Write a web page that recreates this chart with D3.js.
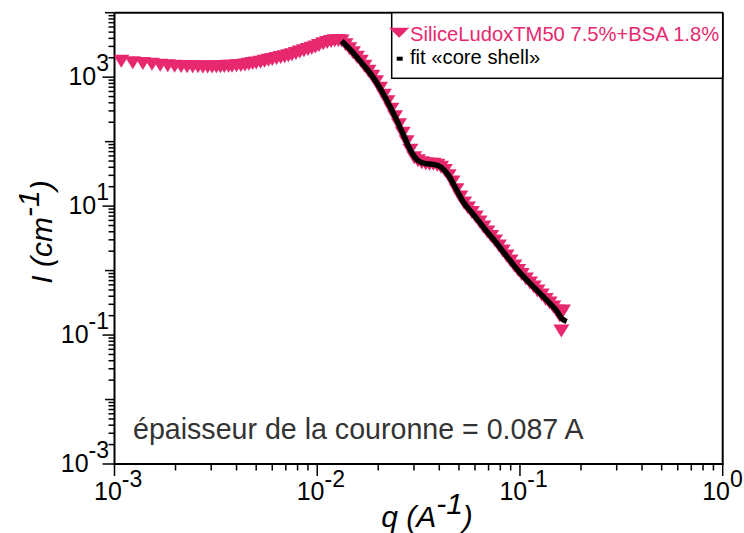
<!DOCTYPE html>
<html><head><meta charset="utf-8">
<script src="https://cdn.jsdelivr.net/npm/d3@7"></script>
<style>body{margin:0;background:#fff}svg{display:block}</style>
</head><body><svg id="c" width="744" height="533"></svg>
<script>
// ---- data ----
const qData = [0.00108,0.00123,0.00138,0.00153,0.00168,0.00183,0.00198,0.00213,0.00228,0.00243,
0.00258,0.00273,0.00288,0.00303,0.00318,0.00333,0.00348,0.00365,0.00380,0.00400,
0.00420,0.00440,0.00460,0.00480,0.00500,0.00525,0.00550,0.00575,0.00600,0.00630,
0.00660,0.00690,0.00720,0.00750,0.00785,0.00820,0.00860,0.00900,0.00940,0.00980,
0.0102,0.0107,0.0112,0.0117,0.0122,0.0127,0.0132,0.0138,0.0144,0.0150,
0.0157,0.0164,0.0171,0.0179,0.0187,0.0195,0.0204,0.0213,0.0222,0.0232,
0.0242,0.0253,0.0264,0.0276,0.0288,0.0301,0.0314,0.0328,0.0343,0.0358,
0.0374,0.0391,0.0408,0.0426,0.0445,0.0465,0.0486,0.0508,0.0530,0.0554,
0.0579,0.0605,0.0632,0.0660,0.0690,0.0721,0.0753,0.0787,0.0822,0.0859,
0.0898,0.0938,0.0980,0.102,0.107,0.112,0.117,0.122,0.128,0.134,
0.140,0.146,0.152,0.157,0.160,0.163];
const iData = [1764,1678,1631,1580,1535,1508,1481,1466,1455,1455,
1450,1444,1444,1444,1450,1455,1466,1476,1481,1497,
1513,1546,1591,1631,1666,1708,1758,1822,1888,1950,
2013,2079,2154,2233,2331,2459,2576,2689,2816,2950,
3101,3307,3463,3589,3680,3719,3654,3191,2766,2398,
2042,1758,1481,1239,1036,851.6,675.3,525.9,417.1,319.0,
244.1,183.4,135.5,100.0,73.83,56.48,50.75,47.24,45.60,44.79,
44.47,43.22,40.24,35.52,29.71,23.56,18.02,13.79,11.13,9.311,
7.929,6.752,5.648,4.725,3.953,3.366,2.867,2.398,2.006,1.678,
1.404,1.174,1.000,0.8670,0.7383,0.6401,0.5549,0.4811,0.4171,0.3552,
0.3134,0.2717,0.2356,0.1970,0.1153,0.2356];

const qFit = [0.0132,0.0144,0.0157,0.0171,0.0187,0.0204,0.0222,0.0242,0.0264,0.0288,
0.0314,0.0343,0.0374,0.0408,0.0445,0.0486,0.0530,0.0579,0.0632,0.0690,
0.0753,0.0822,0.0898,0.0980,0.107,0.117,0.128,0.140,0.152,0.160,0.170];
const iFit = [3654,2766,2042,1481,1036,675.3,417.1,244.1,135.5,73.83,
50.75,45.60,44.47,40.24,29.71,18.02,11.13,7.929,5.648,3.953,
2.867,2.006,1.404,1.000,0.7383,0.5549,0.4171,0.3134,0.2356,0.1835,0.162];

const xTickExps = [-3,-2,-1,0];
const yLabelExps = [-3,-1,1,3];
const seriesLabel = "SiliceLudoxTM50 7.5%+BSA 1.8%";
const fitLabel = "fit \u00abcore shell\u00bb";
const note = "épaisseur de la couronne = 0.087 A";

// ---- layout ----
const L = 114.5, R = 722.7, T = 12.7, B = 464;
const x = d3.scaleLog().domain([1e-3, 1]).range([L, R]);
const y = d3.scaleLog().domain([1e-3, 1e4]).range([B, T]);
const svg = d3.select("#c");
const font = "'Liberation Sans', Arial, Helvetica, sans-serif";
const pink = "#E8286E";

svg.append("clipPath").attr("id","clip").append("rect")
  .attr("x", L).attr("y", T - 6).attr("width", R - L).attr("height", B - T + 6);

// ---- ticks ----
const isMajor = t => Math.abs(Math.log10(t) - Math.round(Math.log10(t))) < 1e-6;
const gAx = svg.append("g").attr("stroke", "#000").attr("stroke-width", 1.5);
y.ticks().forEach(t => {
  const e = Math.round(Math.log10(t));
  const len = isMajor(t) ? (yLabelExps.includes(e) ? 12 : 9.5) : 6;
  gAx.append("line").attr("x1", L - len).attr("x2", L).attr("y1", y(t)).attr("y2", y(t));
});
x.ticks().forEach(t => {
  const len = isMajor(t) ? 12 : 6.5;
  gAx.append("line").attr("x1", x(t)).attr("x2", x(t)).attr("y1", B).attr("y2", B + len);
});
// frame
const gF = svg.append("g").attr("stroke", "#000").attr("stroke-width", 2).attr("fill", "none");
gF.append("line").attr("x1", L).attr("x2", L).attr("y1", T).attr("y2", B);
gF.append("line").attr("x1", L - 1).attr("x2", R + 1).attr("y1", B).attr("y2", B);
gF.append("line").attr("x1", L).attr("x2", R).attr("y1", T).attr("y2", T);
gF.append("line").attr("x1", R).attr("x2", R).attr("y1", T).attr("y2", B);

// ---- tick labels ----
yLabelExps.forEach(e => {
  const t = svg.append("text").attr("x", 109).attr("y", y(Math.pow(10, e)) + 8)
    .attr("text-anchor", "end").attr("font-family", font).attr("font-size", 25).attr("fill", "#000");
  t.append("tspan").text("10");
  t.append("tspan").attr("dy", -14).attr("font-size", 23).text(String(e));
});
xTickExps.forEach(e => {
  const t = svg.append("text").attr("x", x(Math.pow(10, e)) - 20.5).attr("y", 500)
    .attr("font-family", font).attr("font-size", 25).attr("fill", "#000");
  t.append("tspan").text("10");
  t.append("tspan").attr("dy", -13).attr("font-size", 23).text(String(e));
});

// ---- axis titles ----
const yt = svg.append("text").attr("transform", "translate(52,232) rotate(-90)")
  .attr("text-anchor", "middle").attr("font-family", font).attr("font-size", 30)
  .attr("font-style", "italic").attr("fill", "#000");
yt.append("tspan").text("I (cm");
yt.append("tspan").attr("dy", -13).text("-1");
yt.append("tspan").attr("dy", 13).text(")");
const xt = svg.append("text").attr("x", 427).attr("y", 527)
  .attr("text-anchor", "middle").attr("font-family", font).attr("font-size", 30)
  .attr("font-style", "italic").attr("fill", "#000");
xt.append("tspan").text("q (A");
xt.append("tspan").attr("dy", -13).text("-1");
xt.append("tspan").attr("dy", 13).text(")");

// ---- data markers ----
const pts = qData.map((q, i) => [x(q), y(iData[i])]);
svg.append("g").attr("clip-path", "url(#clip)").selectAll("path").data(pts).join("path")
  .attr("d", d => `M${d[0]-8},${d[1]-6.5}L${d[0]+8},${d[1]-6.5}L${d[0]},${d[1]+6.5}Z`)
  .attr("fill", pink);

// ---- fit ----
const line = d3.line().x(d => x(d[0])).y(d => y(d[1])).curve(d3.curveMonotoneX);
svg.append("path").datum(qFit.map((q, i) => [q, iFit[i]])).attr("d", line)
  .attr("fill", "none").attr("stroke", "#000").attr("stroke-width", 5.5);

// ---- annotation ----
svg.append("text").attr("x", 133).attr("y", 439).attr("font-family", font)
  .attr("font-size", 28.6).attr("fill", "#333").text(note);

// ---- legend ----
const lg = svg.append("g");
lg.append("rect").attr("x", 391.7).attr("y", T).attr("width", R - 391.7).attr("height", 65.6)
  .attr("fill", "#fff").attr("stroke", "#000").attr("stroke-width", 1.5);
lg.append("path").attr("d", "M389,27.7L409.3,27.7L399.2,37.7Z").attr("fill", pink);
lg.append("text").attr("x", 410).attr("y", 40.5).attr("font-family", font).attr("font-size", 20.2)
  .attr("fill", pink).text(seriesLabel);
lg.append("rect").attr("x", 396.7).attr("y", 56.7).attr("width", 6).attr("height", 4).attr("fill", "#000");
lg.append("text").attr("x", 410).attr("y", 64).attr("font-family", font).attr("font-size", 20.2)
  .attr("fill", "#000").text(fitLabel);
</script></body></html>
